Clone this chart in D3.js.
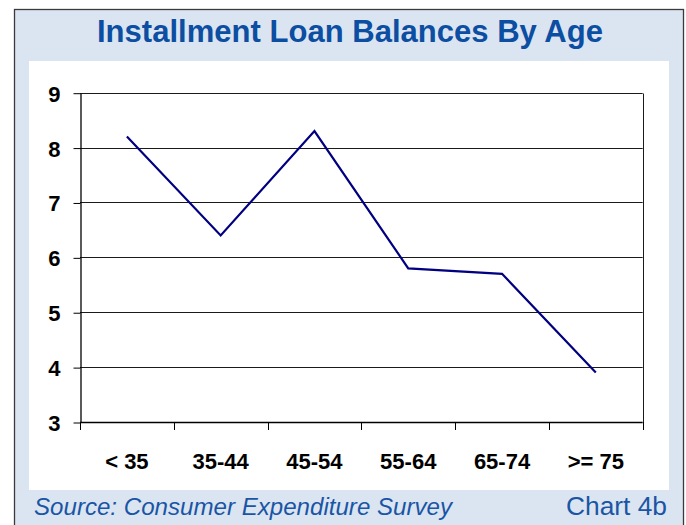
<!DOCTYPE html>
<html>
<head>
<meta charset="utf-8">
<script src="https://cdn.jsdelivr.net/npm/d3@7"></script>
<style>
  html, body { margin: 0; padding: 0; background: #ffffff; }
  svg { display: block; }
  text { font-family: "Liberation Sans", Arial, sans-serif; }
</style>
</head>
<body>
<svg id="chart" width="686" height="525"></svg>
<script>
// Installment loan balances by age group
const ageGroups = ["< 35", "35-44", "45-54", "55-64", "65-74", ">= 75"];
const balances = [8.2, 6.4, 8.3, 5.8, 5.7, 3.9];
const yTicks = [3, 4, 5, 6, 7, 8, 9];
const titleText = "Installment Loan Balances By Age";
const sourceText = "Source: Consumer Expenditure Survey";
const chartLabel = "Chart 4b";

const svg = d3.select("#chart");

// outer frame
svg.append("rect")
  .attr("x", 14.5).attr("y", 9.5)
  .attr("width", 669).attr("height", 530)
  .attr("fill", "#dbe5f1")
  .attr("stroke", "#3a3a3a").attr("stroke-width", 1.3);

// white panel
svg.append("rect")
  .attr("x", 29).attr("y", 61)
  .attr("width", 640).attr("height", 429)
  .attr("fill", "#ffffff");

// title
svg.append("text")
  .attr("x", 350).attr("y", 41.5)
  .attr("text-anchor", "middle")
  .attr("font-size", 32).attr("font-weight", "bold")
  .attr("fill", "#0b4ea2")
  .attr("textLength", 506).attr("lengthAdjust", "spacingAndGlyphs")
  .text(titleText);

const plotLeft = 80, plotRight = 642.7, plotTop = 92.7, plotBottom = 422;

const x = d3.scaleBand().domain(ageGroups).range([plotLeft, plotRight]).padding(0);
const y = d3.scaleLinear().domain([3, 9]).range([plotBottom, plotTop]);

// horizontal gridlines
svg.append("g")
  .selectAll("line")
  .data(yTicks.filter(v => v > 3))
  .join("line")
  .attr("x1", plotLeft).attr("x2", plotRight)
  .attr("y1", d => Math.round(y(d)) + 0.5)
  .attr("y2", d => Math.round(y(d)) + 0.5)
  .attr("stroke", "#1a1a1a").attr("stroke-width", 1);

// right edge of plot area
svg.append("line")
  .attr("x1", Math.round(plotRight) + 0.5).attr("x2", Math.round(plotRight) + 0.5)
  .attr("y1", Math.round(plotTop) + 0.5).attr("y2", Math.round(plotBottom) + 0.5)
  .attr("stroke", "#1a1a1a").attr("stroke-width", 1);

// y axis
const yAxis = d3.axisLeft(y).tickValues(yTicks).tickSizeInner(7).tickSizeOuter(0).tickPadding(13)
  .tickFormat(d3.format("d"));
const gy = svg.append("g")
  .attr("transform", `translate(${Math.round(plotLeft) + 0.5},0.5)`)
  .call(yAxis);
gy.select(".domain").attr("stroke", "#000").attr("stroke-width", 1.3);
gy.selectAll(".tick line").attr("stroke", "#000");
gy.selectAll(".tick text")
  .attr("font-family", "Liberation Sans, Arial, sans-serif")
  .attr("font-size", 22).attr("font-weight", "bold").attr("fill", "#000")
  .attr("dy", "0.36em");

// x axis baseline
svg.append("line")
  .attr("x1", plotLeft).attr("x2", plotRight)
  .attr("y1", Math.round(plotBottom) + 0.5).attr("y2", Math.round(plotBottom) + 0.5)
  .attr("stroke", "#000").attr("stroke-width", 1.3);

// x ticks at category boundaries
const boundaries = ageGroups.map(g => x(g)).concat([x.range()[1]]);
svg.append("g")
  .selectAll("line")
  .data(boundaries)
  .join("line")
  .attr("x1", d => Math.round(d) + 0.5).attr("x2", d => Math.round(d) + 0.5)
  .attr("y1", plotBottom).attr("y2", plotBottom + 8)
  .attr("stroke", "#000").attr("stroke-width", 1);

// x labels
svg.append("g")
  .selectAll("text")
  .data(ageGroups)
  .join("text")
  .attr("x", d => x(d) + x.bandwidth() / 2)
  .attr("y", 469)
  .attr("text-anchor", "middle")
  .attr("font-size", 22).attr("font-weight", "bold").attr("fill", "#000")
  .text(d => d);

// data line
const line = d3.line()
  .x((d, i) => x(ageGroups[i]) + x.bandwidth() / 2)
  .y(d => y(d));
svg.append("path")
  .datum(balances)
  .attr("d", line)
  .attr("fill", "none")
  .attr("stroke", "#000080")
  .attr("stroke-width", 2.2)
  .attr("stroke-linejoin", "miter");

// footer
svg.append("text")
  .attr("x", 34).attr("y", 514.5)
  .attr("font-size", 24).attr("font-style", "italic")
  .attr("fill", "#1a55a5")
  .attr("textLength", 418).attr("lengthAdjust", "spacingAndGlyphs")
  .text(sourceText);

svg.append("text")
  .attr("x", 667).attr("y", 514.5)
  .attr("text-anchor", "end")
  .attr("font-size", 25)
  .attr("fill", "#1a55a5")
  .attr("textLength", 101).attr("lengthAdjust", "spacingAndGlyphs")
  .text(chartLabel);
</script>
</body>
</html>
